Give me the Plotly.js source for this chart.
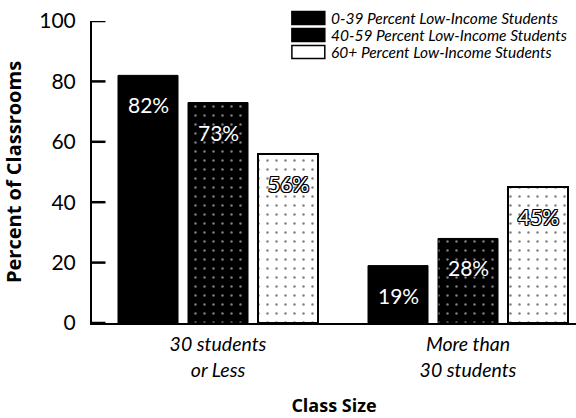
<!DOCTYPE html>
<html>
<head>
<meta charset="utf-8">
<script src="https://cdn.plot.ly/plotly-3.0.1.min.js"></script>
<style>html,body{margin:0;padding:0;background:#fff;}#chart{width:576px;height:418px;}</style>
</head>
<body>
<div id="chart"></div>
<script>
const categories = ["30 students<br>or Less", "More than<br>30 students"];
const seriesNames = ["0-39 Percent Low-Income Students", "40-59 Percent Low-Income Students", "60+ Percent Low-Income Students"];
const low = [82, 19];
const mid = [73, 28];
const high = [56, 45];
const yTicks = [0, 20, 40, 60, 80, 100];

// bar geometry in category units (style, not data)
const barWidth = 0.24;
const barOffsets = [-0.4, -0.12, 0.16];

const outline = "1px 1px 0 #000, -1px -1px 0 #000, 1px -1px 0 #000, -1px 1px 0 #000, 0 1px 0 #000, 0 -1px 0 #000, 1px 0 0 #000, -1px 0 0 #000";

const series = [low, mid, high];
const markers = [
  {color: "#000", line: {color: "#000", width: 1}},
  {color: "#000", line: {color: "#000", width: 1},
   pattern: {shape: ".", fgcolor: "#fff", bgcolor: "#000", size: 9, solidity: 0.06, fillmode: "overlay"}},
  {color: "#fff", line: {color: "#000", width: 2},
   pattern: {shape: ".", fgcolor: "#000", bgcolor: "#fff", size: 9, solidity: 0.06, fillmode: "overlay"}}
];
const swatchFill = ["#000", "#000", "#fff"];

const data = series.map((vals, i) => ({
  type: "bar", name: seriesNames[i], x: [0, 1], y: vals,
  width: barWidth, offset: barOffsets[i],
  marker: markers[i], hoverinfo: "skip", showlegend: false
}));

const annotations = [];
series.forEach((vals, i) => {
  vals.forEach((v, j) => {
    annotations.push({
      x: j + barOffsets[i] + barWidth / 2, y: v, xref: "x", yref: "y",
      text: v + "%", showarrow: false, yanchor: "top", yshift: -15,
      font: Object.assign({family: "Lato, 'Open Sans', sans-serif", size: 21, color: "#fff"},
                          i === 2 ? {shadow: outline} : {})
    });
  });
});

const shapes = [];
// y-axis tick marks drawn inward from the axis line
yTicks.forEach(t => {
  shapes.push({type: "line", xref: "x", yref: "y", x0: -0.504, x1: -0.45, y0: t, y1: t,
               line: {color: "#000", width: 2.5}});
});

// compact legend matching the original
const legTop = 1.010, legStep = 0.0565, swH = 0.0215;
seriesNames.forEach((name, i) => {
  const yc = legTop - i * legStep;
  shapes.push({type: "rect", xref: "paper", yref: "paper", x0: 0.413, x1: 0.481, y0: yc - swH, y1: yc + swH,
               fillcolor: swatchFill[i], line: {color: "#000", width: 1.5}});
  annotations.push({xref: "paper", yref: "paper", x: 0.49, y: yc, xanchor: "left", yanchor: "middle",
                    text: name, showarrow: false,
                    font: {family: "Lato, sans-serif", size: 15.5, color: "#000", style: "italic"}});
});

const layout = {
  width: 576, height: 418,
  margin: {l: 92, r: 0, t: 21, b: 95},
  paper_bgcolor: "#fff", plot_bgcolor: "#fff",
  barmode: "overlay",
  showlegend: false,
  annotations: annotations,
  shapes: shapes,
  xaxis: {
    range: [-0.504, 1.432],
    tickvals: [0, 1], ticktext: categories,
    showline: true, linecolor: "#000", linewidth: 2,
    ticks: "", showgrid: false, zeroline: false,
    ticklabelstandoff: 3,
    tickfont: {family: "Lato, sans-serif", size: 19.5, color: "#000", style: "italic"},
    title: {text: "Class Size", font: {family: "'Open Sans', sans-serif", size: 18, color: "#000", weight: "bold"}, standoff: 20}
  },
  yaxis: {
    range: [0, 100], tickvals: yTicks, ticktext: yTicks.map(String),
    showline: true, linecolor: "#000", linewidth: 2,
    ticks: "", ticklabelstandoff: 10,
    showgrid: false, zeroline: false,
    tickfont: {family: "Lato, sans-serif", size: 21, color: "#000"},
    title: {text: "Percent of Classrooms", font: {family: "'Open Sans', sans-serif", size: 20, color: "#000", weight: "bold"}, standoff: 18}
  }
};

Plotly.newPlot("chart", data, layout, {displayModeBar: false, staticPlot: true});
</script>
</body>
</html>
